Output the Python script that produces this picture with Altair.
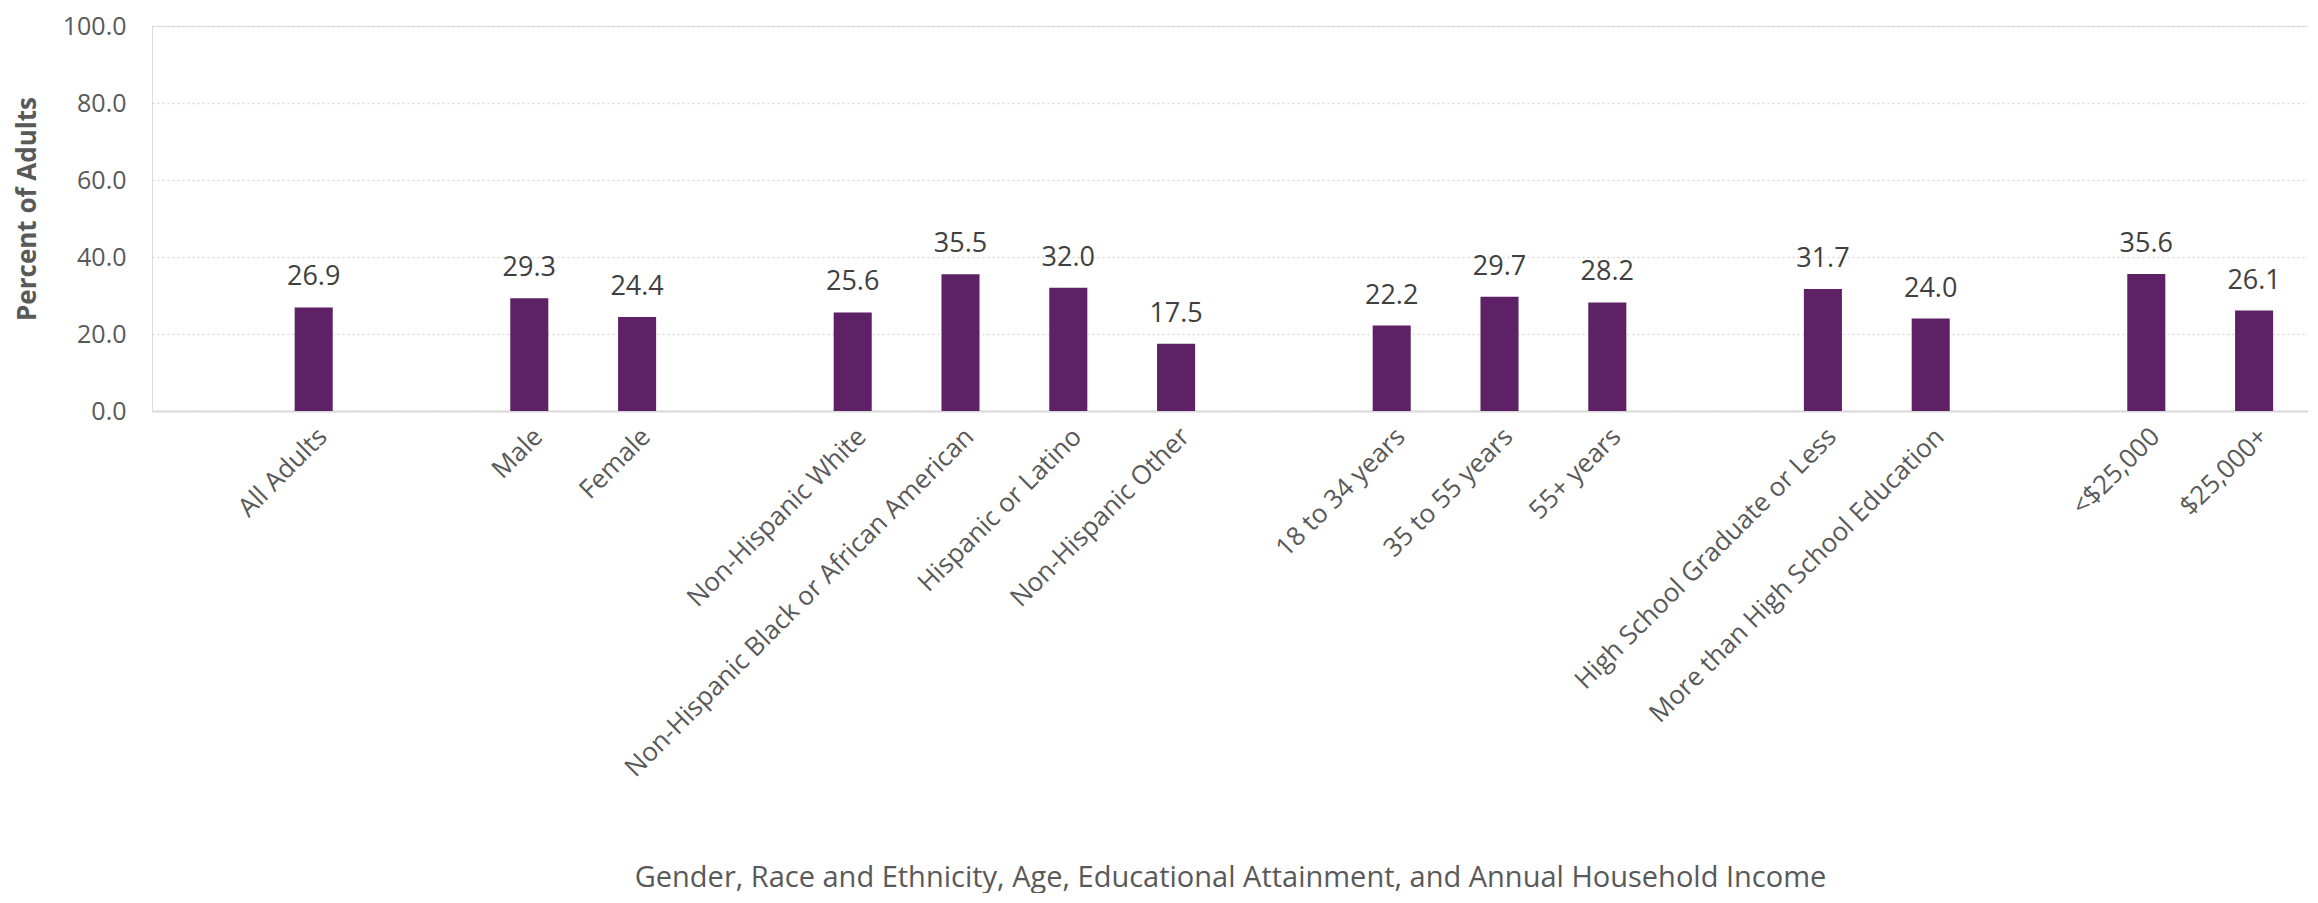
import altair as alt
import pandas as pd

# Category slots in display order; spacer slots are strings of spaces (gaps between groups)
slots = [" ", "All Adults", "  ", "Male", "Female", "   ",
         "Non-Hispanic White", "Non-Hispanic Black or African American",
         "Hispanic or Latino", "Non-Hispanic Other", "    ",
         "18 to 34 years", "35 to 55 years", "55+ years", "     ",
         "High School Graduate or Less", "More than High School Education", "      ",
         "<$25,000", "$25,000+"]

categories = ["All Adults", "Male", "Female",
              "Non-Hispanic White", "Non-Hispanic Black or African American",
              "Hispanic or Latino", "Non-Hispanic Other",
              "18 to 34 years", "35 to 55 years", "55+ years",
              "High School Graduate or Less", "More than High School Education",
              "<$25,000", "$25,000+"]
values = [26.9, 29.3, 24.4, 25.6, 35.5, 32.0, 17.5, 22.2, 29.7, 28.2, 31.7, 24.0, 35.6, 26.1]

y_ticks = [0, 20, 40, 60, 80, 100]

df = pd.DataFrame({"category": categories, "value": values})

FONT = "Open Sans"
GREY = "#595959"
PURPLE = "#5E2166"

W, H = 2156, 385
p_inner = 0.647

x_enc = alt.X("category:N", sort=slots,
              scale=alt.Scale(domain=slots, paddingInner=p_inner, paddingOuter=p_inner / 2),
              axis=alt.Axis(title="Gender, Race and Ethnicity, Age, Educational Attainment, and Annual Household Income",
                            labelAngle=-45, labelAlign="right", labelBaseline="top",
                            labelPadding=12, labelFont=FONT, labelFontSize=26, labelColor=GREY,
                            ticks=False, domain=True, domainColor="#D9D9D9", domainWidth=2,
                            titleFont=FONT, titleFontSize=29, titleFontWeight="normal", titleColor=GREY,
                            titleX=W / 2, titleY=466, titleBaseline="middle",
                            labelLimit=1000))
y_enc = alt.Y("value:Q",
              scale=alt.Scale(domain=[0, 100], nice=False),
              axis=alt.Axis(title="Percent of Adults", values=y_ticks, format=".1f",
                            ticks=False, domain=False, grid=True,
                            gridColor="#D9D9D9", gridDash=[2, 3], gridWidth=1.5,
                            labelFont=FONT, labelFontSize=25, labelColor=GREY, labelPadding=26,
                            titleFont=FONT, titleFontSize=26, titleFontWeight="bold", titleColor=GREY,
                            titleX=-125, titleY=H / 2 - 10, titleAngle=-90, titleBaseline="middle",
                            titleAlign="center"))

bars = alt.Chart(df).mark_bar(color=PURPLE).encode(x=x_enc, y=y_enc)
labels = alt.Chart(df).mark_text(font=FONT, fontSize=27, color="#404040",
                                 baseline="alphabetic", dy=-22).encode(
    x=alt.X("category:N", sort=slots), y="value:Q", text=alt.Text("value:Q", format=".1f"))

chart = (bars + labels).properties(
    width=W, height=H,
    autosize=alt.AutoSizeParams(type="none"),
    padding={"left": 144, "top": 18, "right": 0, "bottom": 482},
).configure_view(stroke=None).configure(background="white")

chart.save("out.html", embed_options={"renderer": "svg", "actions": False})
